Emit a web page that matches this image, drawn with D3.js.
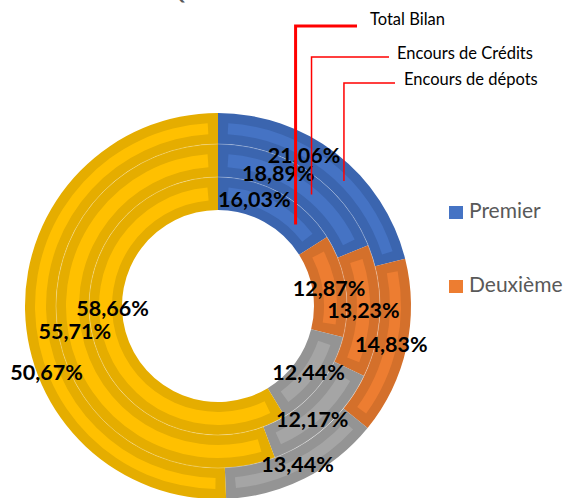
<!DOCTYPE html>
<html>
<head>
<meta charset="utf-8">
<script src="https://cdn.jsdelivr.net/npm/d3@7"></script>
<style>
  html, body { margin: 0; padding: 0; background: #fff; }
  svg { display: block; font-family: Lato, "Open Sans", sans-serif; }
</style>
</head>
<body>
<div id="chart"></div>
<script>
// categories (only the first two are kept in the legend, like the source)
const categories = ['Premier', 'Deuxième', 'Troisième', 'Autres']
// rings, from the inside out
const series = ['Total Bilan', 'Encours de Crédits', 'Encours de dépots']
const totalBilan = [16.03, 12.87, 12.44, 58.66]
const encoursCredits = [18.89, 13.23, 12.17, 55.71]
const encoursDepots = [21.06, 14.83, 13.44, 50.67]
const title = 'Quote-Part du Marché'

const ringValues = [totalBilan, encoursCredits, encoursDepots]

const W = 566, H = 498
const cx = 218, cy = 306
const radii = [96, 129, 162, 193]
const inset = 10

// darker frame + lighter core, office palette
const darkColor = d3.scaleOrdinal().domain(categories).range(['#3b65af', '#d4702b', '#949494', '#e5ad00'])
const lightColor = d3.scaleOrdinal().domain(categories).range(['#4573c4', '#ed7d31', '#a5a5a5', '#ffc000'])

// manual label moves, done by hand in the original workbook
const labelNudge = {
  '0-0': [-18, -8], '1-0': [-21, -12], '2-0': [-23, -10],
  '0-3': [3, -28], '2-3': [6, 63], '1-2': [-4, 6]
}

const callouts = [
  {ring: 0, angle: 43.6, elbowY: 26, lineEnd: 357, textX: 370, textY: 25, width: 3},
  {ring: 1, angle: 40, elbowY: 57, lineEnd: 389, textX: 397, textY: 59, width: 1.5},
  {ring: 2, angle: 45.2, elbowY: 83, lineEnd: 395, textX: 404, textY: 85, width: 1.5}
]

const svg = d3.select('#chart').append('svg')
  .attr('width', W)
  .attr('height', H)

svg.append('text')
  .attr('x', 265).attr('y', 0)
  .attr('text-anchor', 'middle')
  .attr('font-size', 19).attr('font-weight', 700)
  .attr('fill', '#595959')
  .text(title)

const pie = d3.pie().sort(null).value(d => d)

const g = svg.append('g').attr('transform', `translate(${cx},${cy})`)

ringValues.forEach((vals, ri) => {
  const r0 = radii[ri], r1 = radii[ri + 1]
  const rMid = (r0 + r1) / 2
  const slices = pie(vals)
  const outer = d3.arc().innerRadius(r0).outerRadius(r1)
  const core = d3.arc().innerRadius(r0 + inset).outerRadius(r1 - inset)
  const pad = inset / rMid

  const ring = g.append('g')
  ring.selectAll('path.frame').data(slices).enter().append('path')
    .attr('class', 'frame')
    .attr('d', outer)
    .attr('fill', (d, i) => darkColor(categories[i]))
  ring.selectAll('path.core').data(slices).enter().append('path')
    .attr('class', 'core')
    .attr('d', d => core({startAngle: d.startAngle + pad, endAngle: d.endAngle - pad}))
    .attr('fill', (d, i) => lightColor(categories[i]))
})

// faint separators between rings
g.selectAll('circle.sep').data(radii.slice(1, 3)).enter().append('circle')
  .attr('r', d => d)
  .attr('fill', 'none')
  .attr('stroke', 'rgba(255,255,255,0.35)')
  .attr('stroke-width', 0.8)

// data labels
ringValues.forEach((vals, ri) => {
  const mid = d3.arc().innerRadius(radii[ri]).outerRadius(radii[ri + 1])
  g.append('g').selectAll('text').data(pie(vals)).enter().append('text')
    .attr('transform', (d, i) => {
      const [x, y] = mid.centroid(d)
      const n = labelNudge[`${ri}-${i}`] || [0, 0]
      return `translate(${x + n[0]},${y + n[1]})`
    })
    .attr('text-anchor', 'middle')
    .attr('dy', '0.35em')
    .attr('font-size', 21.5)
    .attr('font-weight', 700)
    .attr('fill', '#000')
    .text(d => d.data.toFixed(2).replace('.', ',') + '%')
})

// callouts naming each ring
callouts.forEach(c => {
  const r = (radii[c.ring] + radii[c.ring + 1]) / 2
  const a = c.angle * Math.PI / 180
  const x = cx + r * Math.sin(a), y = cy - r * Math.cos(a)
  svg.append('path')
    .attr('d', `M${x},${y}V${c.elbowY}H${c.lineEnd}`)
    .attr('fill', 'none')
    .attr('stroke', '#ff0000')
    .attr('stroke-width', c.width)
  svg.append('text')
    .attr('x', c.textX).attr('y', c.textY)
    .attr('font-size', 16.5)
    .attr('fill', '#000')
    .text(series[c.ring])
})

// legend
const legend = svg.append('g').selectAll('g').data(categories.slice(0, 2)).enter().append('g')
  .attr('transform', (d, i) => `translate(449,${206 + i * 74})`)
legend.append('rect')
  .attr('width', 14).attr('height', 13)
  .attr('fill', d => lightColor(d))
legend.append('text')
  .attr('x', 20).attr('y', 12)
  .attr('font-size', 21)
  .attr('fill', '#595959')
  .text(d => d)
</script>
</body>
</html>
